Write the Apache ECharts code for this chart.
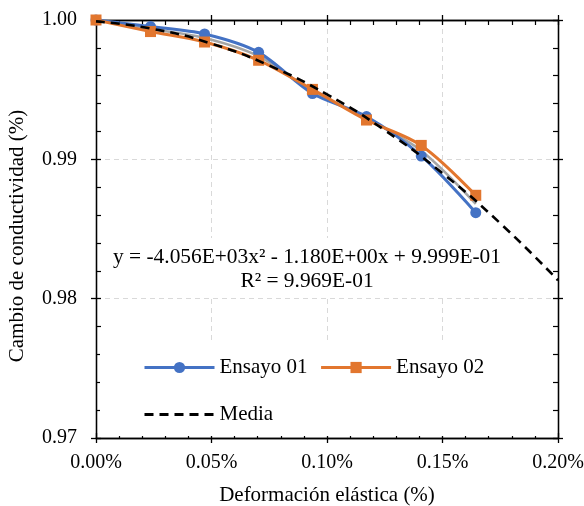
<!DOCTYPE html>
<html>
<head>
<meta charset="utf-8">
<script src="https://cdn.jsdelivr.net/npm/echarts@6/dist/echarts.min.js"></script>
<style>
html,body{margin:0;padding:0;background:#fff;}
#chart{width:584px;height:506px;}
</style>
</head>
<body>
<div id="chart"></div>
<script>
// Data
const xValues = [0, 0.000236, 0.00047, 0.000704, 0.000937, 0.001171, 0.001408, 0.001644];
const ensayo01 = [1.0000, 0.99953, 0.99900, 0.99768, 0.99472, 0.99307, 0.99024, 0.98617];
const ensayo02 = [1.0000, 0.99917, 0.99842, 0.99711, 0.99502, 0.99282, 0.99100, 0.98742];
const mediaDatos = [1.0000, 0.99935, 0.99871, 0.99740, 0.99487, 0.99295, 0.99062, 0.98680];
const xTrend = [0, 0.00025, 0.0005, 0.00075, 0.001, 0.00125, 0.0015, 0.00175, 0.002];
const yTrend = [0.9999, 0.99935, 0.99830, 0.99673, 0.99466, 0.99209, 0.98900, 0.98541, 0.98132];
const seriesNames = ['Ensayo 01', 'Ensayo 02', 'Media'];
const equationLines = ['y = -4.056E+03x² - 1.180E+00x + 9.999E-01', 'R² = 9.969E-01'];
const xAxisTitle = 'Deformación elástica (%)';
const yAxisTitle = 'Cambio de conductividad (%)';

const FONT = 'Liberation Serif';
const pairs = (xs, ys) => xs.map((x, i) => [x, ys[i]]);
const xFmt = v => (v * 100).toFixed(2) + '%';
const yFmt = v => v.toFixed(2);

function xAx(position, inside, main) {
  return {
    type: 'value', gridIndex: 0, position: position,
    min: 0, max: 0.002, interval: 0.0005,
    axisLine: {show: true, onZero: false, lineStyle: {color: '#000', width: 1.3}},
    axisTick: {show: true, inside: inside, length: 5, lineStyle: {color: '#000', width: 1.3}},
    minorTick: {show: inside, splitNumber: 5, length: 5, lineStyle: {color: '#000', width: 1.2}},
    axisLabel: main ? {show: true, formatter: xFmt, margin: 15, color: '#000', fontFamily: FONT, fontSize: 20} : {show: false},
    splitLine: main ? {show: true, lineStyle: {color: '#D9D9D9', type: [5, 4], width: 1}} : {show: false},
    name: main ? xAxisTitle : '',
    nameLocation: 'middle', nameGap: 47,
    nameTextStyle: {color: '#000', fontFamily: FONT, fontSize: 21}
  };
}
function yAx(position, inside, main) {
  return {
    type: 'value', gridIndex: 0, position: position,
    min: 0.97, max: 1.0, interval: 0.01,
    axisLine: {show: true, onZero: false, lineStyle: {color: '#000', width: 1.3}},
    axisTick: {show: true, inside: inside, length: 5, lineStyle: {color: '#000', width: 1.3}},
    minorTick: {show: inside, splitNumber: 5, length: 5, lineStyle: {color: '#000', width: 1.2}},
    axisLabel: main ? {show: true, formatter: yFmt, margin: 19, color: '#000', fontFamily: FONT, fontSize: 20} : {show: false},
    splitLine: main ? {show: true, lineStyle: {color: '#D9D9D9', type: [5, 4], width: 1}} : {show: false}
  };
}

const legendText = {color: '#000', fontFamily: FONT, fontSize: 21};
const chart = echarts.init(document.getElementById('chart'), null, {renderer: 'canvas'});
chart.setOption({
  animation: false,
  backgroundColor: '#fff',
  grid: {left: 96, right: 26, top: 20, bottom: 68, containLabel: false, outerBoundsMode: 'none'},
  xAxis: [xAx('bottom', false, true), xAx('bottom', true, false), xAx('top', false, false), xAx('top', true, false)],
  yAxis: [yAx('left', false, true), yAx('left', true, false), yAx('right', false, false), yAx('right', true, false)],
  legend: [
    {
      data: [seriesNames[0], seriesNames[1]],
      left: 143, top: 357, padding: 0,
      itemWidth: 70, itemHeight: 14, itemGap: 12,
      lineStyle: {width: 3},
      textStyle: legendText,
      selectedMode: false
    },
    {
      data: [{name: seriesNames[2], itemStyle: {color: 'rgba(0,0,0,0)', borderWidth: 0}}],
      left: 143, top: 404, padding: 0,
      itemWidth: 70, itemHeight: 14,
      lineStyle: {width: 3},
      textStyle: legendText,
      selectedMode: false
    }
  ],
  graphic: [
    {type: 'rect', z: 1, shape: {x: 100, y: 340, width: 452, height: 96}, style: {fill: '#fff'}},
    {type: 'rect', z: 1, shape: {x: 110, y: 238, width: 396, height: 58}, style: {fill: '#fff'}},
    {type: 'text', z: 1, x: 307, y: 245,
      style: {text: equationLines.join('\n'), fill: '#000', font: '21.4px "Liberation Serif"', align: 'center', verticalAlign: 'top', lineHeight: 24}},
    {type: 'text', z: 1, x: 17, y: 236, rotation: Math.PI / 2,
      style: {text: yAxisTitle, fill: '#000', font: '21px "Liberation Serif"', align: 'center', verticalAlign: 'middle'}}
  ],
  series: [
    {
      name: 'Media datos', type: 'line', xAxisIndex: 0, yAxisIndex: 0,
      data: pairs(xValues, mediaDatos), smooth: 0.3, symbol: 'none',
      lineStyle: {color: '#A5A5A5', width: 2.5}, z: 2
    },
    {
      name: seriesNames[0], type: 'line', xAxisIndex: 0, yAxisIndex: 0,
      data: pairs(xValues, ensayo01), smooth: 0.3,
      symbol: 'circle', symbolSize: 11,
      itemStyle: {color: '#4472C4'},
      lineStyle: {color: '#4472C4', width: 3}, z: 3
    },
    {
      name: seriesNames[1], type: 'line', xAxisIndex: 0, yAxisIndex: 0,
      data: pairs(xValues, ensayo02), smooth: 0.3,
      symbol: 'rect', symbolSize: 11,
      itemStyle: {color: '#E2762E'},
      lineStyle: {color: '#E2762E', width: 3}, z: 4
    },
    {
      name: seriesNames[2], type: 'line', xAxisIndex: 0, yAxisIndex: 0,
      data: pairs(xTrend, yTrend), smooth: true, symbol: 'none',
      itemStyle: {color: '#000'},
      lineStyle: {color: '#000', width: 2.6, type: [9, 6]}, z: 5
    }
  ]
});
</script>
</body>
</html>
